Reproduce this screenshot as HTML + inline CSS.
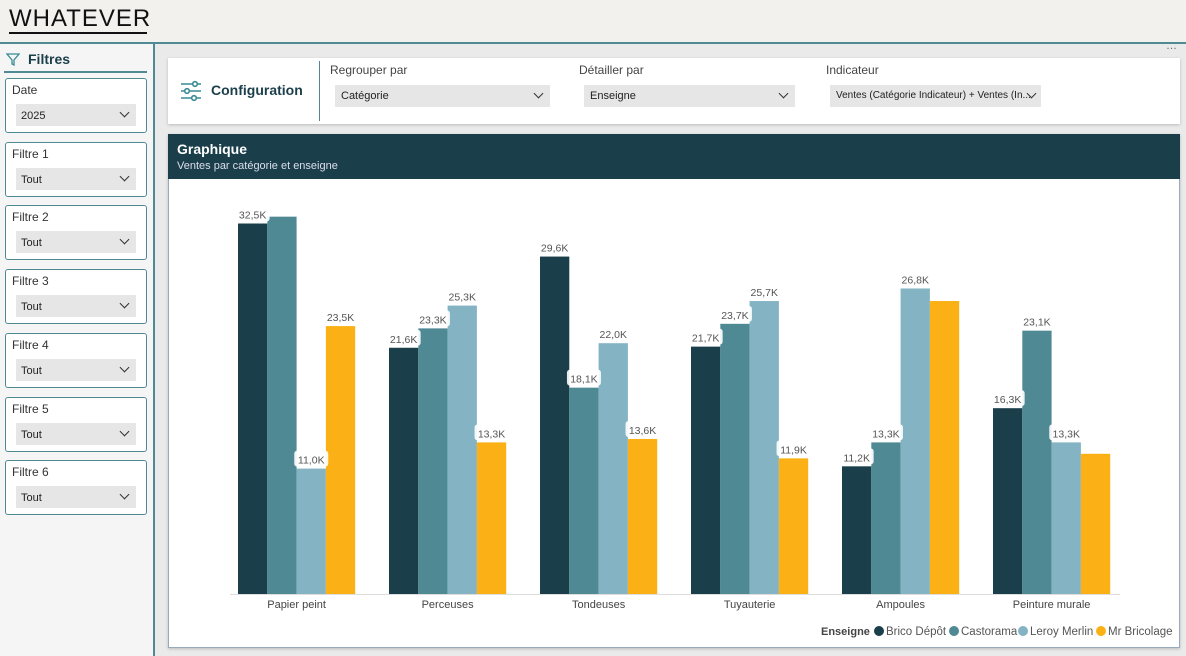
<!DOCTYPE html>
<html><head><meta charset="utf-8">
<style>
*{box-sizing:border-box;margin:0;padding:0}
body{width:1186px;height:656px;overflow:hidden;background:#eaeaea;font-family:"Liberation Sans",sans-serif;position:relative}
.abs{position:absolute}
.fbox{position:absolute;left:5px;width:142px;height:55px;border:1px solid #4f8a94;border-radius:3px;background:#fff}
.fbox .t{position:absolute;left:6px;top:4px;font-size:12px;color:#333}
.dd{position:absolute;background:#e6e6e6;font-size:11px;color:#222}
.chev{position:absolute;width:7px;height:7px;border-right:1.3px solid #333;border-bottom:1.3px solid #333;transform:rotate(45deg)}
</style></head><body>
<div class="abs" style="left:0;top:0;width:1186px;height:42px;background:#f3f1ee"></div>
<div class="abs" style="left:9px;top:5px;font-size:24px;letter-spacing:1px;color:#111">WHATEVER</div>
<div class="abs" style="left:9px;top:32px;width:138px;height:2px;background:#111"></div>
<div class="abs" style="left:0;top:42px;width:1186px;height:2px;background:#4f8a94"></div>
<div class="abs" style="left:0;top:44px;width:155px;height:612px;background:#f5f5f5;border-right:2px solid #4f8a94"></div>
<svg class="abs" style="left:6px;top:53px" width="14" height="13"><path d="M1 1H13L8 7V12L6 11V7Z" fill="none" stroke="#3a8a96" stroke-width="1.3"/></svg>
<div class="abs" style="left:28px;top:51px;font-size:14px;font-weight:bold;color:#1b3f4a">Filtres</div>
<div class="abs" style="left:4px;top:71px;width:143px;height:2px;background:#4f8a94"></div>
<div id="filters"></div>
<div class="abs" style="left:1166px;top:40px;font-size:11px;color:#666">…</div>

<div class="abs" style="left:168px;top:58px;width:1012px;height:66px;background:#fff;box-shadow:0 1px 3px rgba(0,0,0,.2)"></div>
<svg class="abs" style="left:180px;top:80px" width="22" height="22" stroke="#3a8a96" stroke-width="1.6" fill="none">
<line x1="1" y1="4" x2="21" y2="4"/><line x1="1" y1="11" x2="21" y2="11"/><line x1="1" y1="18" x2="21" y2="18"/>
<circle cx="15" cy="4" r="2.3" fill="#fff"/><circle cx="7" cy="11" r="2.3" fill="#fff"/><circle cx="14" cy="18" r="2.3" fill="#fff"/></svg>
<div class="abs" style="left:211px;top:82px;font-size:14px;font-weight:bold;color:#1b3f4a">Configuration</div>
<div class="abs" style="left:319px;top:61px;width:1px;height:60px;background:#4f8a94"></div>
<div class="abs" style="left:330px;top:63px;font-size:12px;color:#444">Regrouper par</div>
<div class="dd" style="left:335px;top:85px;width:215px;height:22px"><span style="position:absolute;left:6px;top:5px">Catégorie</span><div class="chev" style="right:8px;top:5px"></div></div>
<div class="abs" style="left:579px;top:63px;font-size:12px;color:#444">Détailler par</div>
<div class="dd" style="left:584px;top:85px;width:211px;height:22px"><span style="position:absolute;left:6px;top:5px">Enseigne</span><div class="chev" style="right:8px;top:5px"></div></div>
<div class="abs" style="left:826px;top:63px;font-size:12px;color:#444">Indicateur</div>
<div class="dd" style="left:830px;top:85px;width:211px;height:22px"><span style="position:absolute;left:6px;top:5px;font-size:10px">Ventes (Catégorie Indicateur) + Ventes (In...</span><div class="chev" style="right:6px;top:5px"></div></div>

<div class="abs" style="left:168px;top:134px;width:1012px;height:514px;background:#fff;border:1px solid #9ab;box-shadow:0 1px 3px rgba(0,0,0,.2)"></div>
<div class="abs" style="left:168px;top:134px;width:1012px;height:45px;background:#1b3f4a"></div>
<div class="abs" style="left:177px;top:141px;font-size:14px;font-weight:bold;color:#fff">Graphique</div>
<div class="abs" style="left:177px;top:160px;font-size:11px;color:#dde">Ventes par catégorie et enseigne</div>
<svg id="chart" class="abs" style="left:0;top:0" width="1186" height="656"></svg>

<script>
const categories=["Papier peint","Perceuses","Tondeuses","Tuyauterie","Ampoules","Peinture murale"];
const series=["Brico Dépôt","Castorama","Leroy Merlin","Mr Bricolage"];
const briceDepot=[32.5,21.6,29.6,21.7,11.2,16.3];
const castorama=[33.1,23.3,18.1,23.7,13.3,23.1];
const leroyMerlin=[11.0,25.3,22.0,25.7,26.8,13.3];
const mrBricolage=[23.5,13.3,13.6,11.9,25.7,12.3];
const showLabel=[[1,0,1,1],[1,1,1,1],[1,1,1,1],[1,1,1,1],[1,1,1,0],[1,1,1,0]];
const colors=["#1a3f4a","#4f8a94","#84b4c4","#fbb116"];
const filterNames=["Date","Filtre 1","Filtre 2","Filtre 3","Filtre 4","Filtre 5","Filtre 6"];
const filterValues=["2025","Tout","Tout","Tout","Tout","Tout","Tout"];

const f=document.getElementById('filters');
filterNames.forEach((n,i)=>{
  const b=document.createElement('div');b.className='fbox';b.style.top=(78+i*63.7)+'px';
  
  
  b.innerHTML='<div class="t">'+n+'</div><div class="dd" style="left:10px;top:25px;width:120px;height:22px"><span style="position:absolute;left:5px;top:6px">'+filterValues[i]+'</span><div class="chev" style="right:8px;top:5px"></div></div>';
  b.querySelector('.dd');
  b.querySelector('.dd');
  f.appendChild(b);
});

const svg=document.getElementById('chart');const NS='http://www.w3.org/2000/svg';
const y0=594,pxPerK=11.4,groupStart=238,groupStep=151,bw=29.3;
const yS=v=>y0-v*pxPerK;
const xS=(g,s)=>groupStart+g*groupStep+s*bw;
const data=[briceDepot,castorama,leroyMerlin,mrBricolage];
function el(t,a){const e=document.createElementNS(NS,t);for(const k in a)e.setAttribute(k,a[k]);svg.appendChild(e);return e;}
const fmt=v=>v.toFixed(1).replace('.',',')+'K';
categories.forEach((c,g)=>{
  data.forEach((arr,s)=>{
    const v=arr[g];
    const r=el('rect',{x:xS(g,s),y:yS(v),width:bw,height:v*pxPerK,fill:colors[s]});
    
    
  });
  data.forEach((arr,s)=>{
    if(!showLabel[g][s])return;
    const v=arr[g],cx=xS(g,s)+bw/2,ty=yS(v)-9;
    el('rect',{x:cx-17,y:ty-9,width:34,height:16,rx:3,fill:'#fff',opacity:0.9});
    const t=el('text',{x:cx,y:ty+4,'text-anchor':'middle','font-size':'10.5','fill':'#555','font-family':'Liberation Sans'});
    t.textContent=fmt(v);
    
    
  });
  const t=el('text',{x:xS(g,2),y:608,'text-anchor':'middle','font-size':'11','fill':'#444','font-family':'Liberation Sans'});
  t.textContent=c;
  
  
});
el('line',{x1:230,x2:1120,y1:594.5,y2:594.5,stroke:'#ddd'});
const lt=el('text',{x:821,y:635,'font-size':'11','font-weight':'bold','fill':'#444','font-family':'Liberation Sans'});lt.textContent='Enseigne';


const lx=[879,954,1023,1101];
series.forEach((s,i)=>{
  el('circle',{cx:lx[i],cy:631,r:5,fill:colors[i]});
  const t=el('text',{x:lx[i]+7,y:635,'font-size':'11.5','fill':'#555','font-family':'Liberation Sans'});t.textContent=s;
  
  
});
</script>
</body></html>
